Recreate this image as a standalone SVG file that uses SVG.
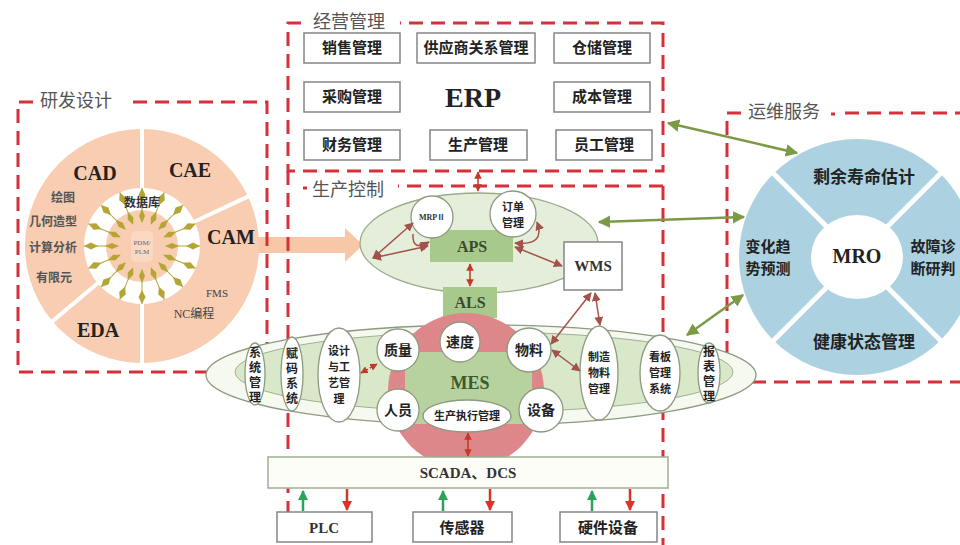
<svg xmlns="http://www.w3.org/2000/svg" xmlns:xlink="http://www.w3.org/1999/xlink" width="960" height="545" viewBox="0 0 960 545">
<style>
.dash{fill:none;stroke:#d6303a;stroke-width:3;stroke-dasharray:14 8}
.title{font-family:'Noto Sans CJK SC',sans-serif;font-size:18px;fill:#555}
.cj{font-family:'Noto Sans CJK SC',sans-serif;font-weight:700;fill:#222;text-anchor:middle}
.vt{font-family:'Noto Sans CJK SC',sans-serif;font-weight:700;fill:#222;text-anchor:middle;writing-mode:vertical-rl;font-size:12px;letter-spacing:3px}
.lat{font-family:'Liberation Serif','Noto Sans CJK SC',serif;font-weight:700;fill:#222;text-anchor:middle}
.box{fill:#fff;stroke:#858585;stroke-width:1.5}
.node{fill:#fff;stroke:#8c9a80;stroke-width:1.3}
.br{fill:none;stroke:#a3524a;stroke-width:1.5}
.ol{fill:none;stroke:#7c9a45;stroke-width:2.5}
.rd{fill:none;stroke:#c0392b;stroke-width:1.5}
</style>
<defs>
<marker id="mb" viewBox="0 0 10 10" refX="9" refY="5" markerWidth="6" markerHeight="6" orient="auto-start-reverse"><path d="M0,0 L10,5 L0,10 z" fill="#a3524a"/></marker>
<marker id="mo" viewBox="0 0 10 10" refX="9" refY="5" markerWidth="5" markerHeight="5" orient="auto-start-reverse"><path d="M0,0 L10,5 L0,10 z" fill="#7c9a45"/></marker>
<marker id="mr" viewBox="0 0 10 10" refX="9" refY="5" markerWidth="5" markerHeight="5" orient="auto-start-reverse"><path d="M0,0 L10,5 L0,10 z" fill="#c0392b"/></marker>
<marker id="mg" viewBox="0 0 10 10" refX="9" refY="5" markerWidth="4" markerHeight="4" orient="auto"><path d="M0,0 L10,5 L0,10 z" fill="#27a35a"/></marker>
<marker id="mrd" viewBox="0 0 10 10" refX="9" refY="5" markerWidth="4" markerHeight="4" orient="auto"><path d="M0,0 L10,5 L0,10 z" fill="#e0302a"/></marker>
<g id="ray">
<line x1="24" y1="0" x2="58" y2="0" stroke="#b5a838" stroke-width="1"/>
<path d="M23,0 L30,-3 L37,0 L30,3 Z" fill="#b3a633"/>
<path d="M44,0 L51,-3.5 L58,0 L51,3.5 Z" fill="#b3a633"/>
</g>
</defs>
<rect width="960" height="545" fill="#fff"/>

<!-- peach arrow -->
<polygon points="245,237 345,237 345,228 363,245 345,262 345,253 245,253" fill="#f8c7a7"/>

<!-- dashed frames -->
<g id="frames">
<path class="dash" d="M301,23 L288,23 L288,171 L663,171 L663,23 L400,23"/>
<text class="title" x="313" y="28">经营管理</text>
<path class="dash" d="M288,171 L288,545 M663,186 L663,545 M663,186 L398,186 M303,188 L307,188"/>
<text class="title" x="312" y="196">生产控制</text>
<path class="dash" d="M33,102 L18,102 L18,372 L267,372 L267,102 L125,102"/>
<text class="title" x="40" y="107">研发设计</text>
<path class="dash" d="M741,113 L727,113 L727,382 L960,382 M845,113 L960,113 M831,114 L835,114"/>
<text class="title" x="748" y="118">运维服务</text>
</g>

<!-- R&D circle -->
<g id="rd-circle">
<circle cx="142" cy="246" r="117" fill="#f8cdb1"/>
<circle cx="142" cy="246" r="58" fill="#fff"/>
<circle cx="142" cy="246" r="36" fill="#f8cdb1"/>
<rect x="131" y="231" width="22" height="31" rx="5" fill="#fbd8c1"/>
<g stroke="#fff" stroke-width="4">
<line x1="142" y1="188" x2="142" y2="126"/>
<line x1="194.6" y1="221.5" x2="250" y2="195.6"/>
<line x1="142" y1="304" x2="142" y2="366"/>
<line x1="97.6" y1="283.3" x2="50.8" y2="322.6"/>
</g>
<use xlink:href="#ray" href="#ray" transform="translate(142,246) rotate(0)"/>
<use xlink:href="#ray" href="#ray" transform="translate(142,246) rotate(22.5)"/>
<use xlink:href="#ray" href="#ray" transform="translate(142,246) rotate(45)"/>
<use xlink:href="#ray" href="#ray" transform="translate(142,246) rotate(67.5)"/>
<use xlink:href="#ray" href="#ray" transform="translate(142,246) rotate(90)"/>
<use xlink:href="#ray" href="#ray" transform="translate(142,246) rotate(112.5)"/>
<use xlink:href="#ray" href="#ray" transform="translate(142,246) rotate(135)"/>
<use xlink:href="#ray" href="#ray" transform="translate(142,246) rotate(157.5)"/>
<use xlink:href="#ray" href="#ray" transform="translate(142,246) rotate(180)"/>
<use xlink:href="#ray" href="#ray" transform="translate(142,246) rotate(202.5)"/>
<use xlink:href="#ray" href="#ray" transform="translate(142,246) rotate(225)"/>
<use xlink:href="#ray" href="#ray" transform="translate(142,246) rotate(247.5)"/>
<use xlink:href="#ray" href="#ray" transform="translate(142,246) rotate(270)"/>
<use xlink:href="#ray" href="#ray" transform="translate(142,246) rotate(292.5)"/>
<use xlink:href="#ray" href="#ray" transform="translate(142,246) rotate(315)"/>
<use xlink:href="#ray" href="#ray" transform="translate(142,246) rotate(337.5)"/>
<text class="lat" x="95" y="180" font-size="20">CAD</text>
<text class="lat" x="190" y="177" font-size="20">CAE</text>
<text class="lat" x="231" y="244" font-size="20">CAM</text>
<text class="lat" x="98" y="337" font-size="20">EDA</text>
<text class="cj" x="63" y="202" font-size="12" style="fill:#555">绘图</text>
<text class="cj" x="53" y="226" font-size="12" style="fill:#555">几何造型</text>
<text class="cj" x="53" y="252" font-size="12" style="fill:#555">计算分析</text>
<text class="cj" x="54" y="282" font-size="12" style="fill:#555">有限元</text>
<text class="cj" x="142" y="207" font-size="12" style="fill:#333">数据库</text>
<text class="lat" font-size="7" style="fill:#666;font-weight:400"><tspan x="142" y="245">PDM/</tspan><tspan x="142" dy="9">PLM</tspan></text>
<text class="lat" x="217" y="297" font-size="11" style="fill:#444;font-weight:400">FMS</text>
<text class="lat" x="194" y="318" font-size="12" style="fill:#444;font-weight:400">NC编程</text>
</g>

<!-- ERP -->
<g id="erp">
<rect class="box" x="304" y="33" width="96" height="30"/>
<text class="cj" x="352" y="53" font-size="15">销售管理</text>
<rect class="box" x="417" y="33" width="118" height="30"/>
<text class="cj" x="476" y="53" font-size="15">供应商关系管理</text>
<rect class="box" x="554" y="33" width="96" height="30"/>
<text class="cj" x="602" y="53" font-size="15">仓储管理</text>
<rect class="box" x="304" y="82" width="96" height="30"/>
<text class="cj" x="352" y="102" font-size="15">采购管理</text>
<text class="lat" x="473" y="107" font-size="28">ERP</text>
<rect class="box" x="554" y="82" width="96" height="30"/>
<text class="cj" x="602" y="102" font-size="15">成本管理</text>
<rect class="box" x="304" y="130" width="96" height="30"/>
<text class="cj" x="352" y="150" font-size="15">财务管理</text>
<rect class="box" x="430" y="130" width="97" height="30"/>
<text class="cj" x="478" y="150" font-size="15">生产管理</text>
<rect class="box" x="556" y="130" width="96" height="30"/>
<text class="cj" x="604" y="150" font-size="15">员工管理</text>
</g>

<!-- MRO circle -->
<g id="mro">
<circle cx="857" cy="257" r="118" fill="#acd2e2"/>
<g stroke="#fff" stroke-width="5">
<line x1="827" y1="227" x2="770" y2="170"/>
<line x1="887" y1="227" x2="944" y2="170"/>
<line x1="827" y1="287" x2="770" y2="344"/>
<line x1="887" y1="287" x2="944" y2="344"/>
</g>
<ellipse cx="857" cy="257" rx="46" ry="42" fill="#fff"/>
<text class="lat" x="857" y="263" font-size="20">MRO</text>
<text class="cj" x="864" y="183" font-size="17">剩余寿命估计</text>
<text class="cj" font-size="15"><tspan x="768" y="252">变化趋</tspan><tspan x="768" dy="22">势预测</tspan></text>
<text class="cj" font-size="15"><tspan x="933" y="252">故障诊</tspan><tspan x="933" dy="22">断研判</tspan></text>
<text class="cj" x="864" y="348" font-size="17">健康状态管理</text>
</g>

<!-- APS ellipse -->
<g id="aps">
<ellipse cx="479" cy="243" rx="119" ry="50" fill="#e5eedb" stroke="#9aab8a" stroke-width="1.3"/>
<rect x="430" y="230" width="83" height="32" fill="#a8c98c"/>
<text class="lat" x="472" y="252" font-size="16" style="fill:#3a4a30">APS</text>
</g>
<g id="mrp"><circle class="node" cx="432" cy="217" r="21"/>
<text class="lat" x="432" y="220" font-size="8" style="fill:#333">MRPⅡ</text></g>
<g id="order"><circle class="node" cx="513" cy="214" r="23"/>
<text class="cj" font-size="11"><tspan x="513" y="211">订单</tspan><tspan x="513" dy="16">管理</tspan></text></g>
<g id="wms"><rect class="box" x="564" y="242" width="58" height="48"/>
<text class="lat" x="593" y="271" font-size="15" style="fill:#333">WMS</text></g>

<!-- big ellipse -->
<g id="band">
<ellipse cx="481" cy="375" rx="275" ry="50" fill="#f5f9ef" stroke="#8c9a80" stroke-width="1.3"/>
<ellipse cx="484" cy="372" rx="249" ry="40" fill="#d9e8c9" stroke="#a0b090" stroke-width="1"/>
</g>

<g id="als"><rect x="443" y="287" width="54" height="31" fill="#a8c98c"/>
<text class="lat" x="470" y="308" font-size="16" style="fill:#3a4a30">ALS</text></g>

<!-- MES -->
<g id="mes">
<circle cx="466" cy="391" r="78" fill="#de878a"/>
<rect x="405" y="352" width="127" height="72" fill="#b7d29e"/>
<text class="lat" x="470" y="389" font-size="18" style="fill:#3d5a2e">MES</text>
</g>
<g id="n-speed"><circle class="node" cx="460" cy="342" r="20"/><text class="cj" x="460" y="347" font-size="14">速度</text></g>
<g id="n-quality"><circle class="node" cx="398" cy="350" r="21"/><text class="cj" x="398" y="355" font-size="14">质量</text></g>
<g id="n-material"><circle class="node" cx="529" cy="350" r="22"/><text class="cj" x="529" y="355" font-size="14">物料</text></g>
<g id="n-staff"><circle class="node" cx="398" cy="410" r="21"/><text class="cj" x="398" y="415" font-size="14">人员</text></g>
<g id="n-equip"><circle class="node" cx="541" cy="410" r="22"/><text class="cj" x="541" y="415" font-size="14">设备</text></g>
<g id="n-exec"><ellipse class="node" cx="467" cy="416" rx="44" ry="16"/><text class="cj" x="467" y="420" font-size="11">生产执行管理</text></g>

<g id="n-sys"><ellipse class="node" cx="255" cy="374" rx="10" ry="31"/>
<text class="vt" x="255" y="376">系统管理</text></g>
<g id="n-code"><ellipse class="node" cx="292" cy="374" rx="11" ry="37"/>
<text class="vt" x="292" y="377">赋码系统</text></g>
<g id="n-design"><ellipse class="node" cx="339" cy="375" rx="21" ry="47"/>
<text class="cj" font-size="11"><tspan x="339" y="355">设计</tspan><tspan x="339" dy="16">与工</tspan><tspan x="339" dy="16">艺管</tspan><tspan x="339" dy="16">理</tspan></text></g>
<g id="n-mfg"><ellipse class="node" cx="599" cy="373" rx="19" ry="47"/>
<text class="cj" font-size="11"><tspan x="599" y="361">制造</tspan><tspan x="599" dy="16">物料</tspan><tspan x="599" dy="16">管理</tspan></text></g>
<g id="n-kanban"><ellipse class="node" cx="660" cy="373" rx="20" ry="38"/>
<text class="cj" font-size="11"><tspan x="660" y="361">看板</tspan><tspan x="660" dy="16">管理</tspan><tspan x="660" dy="16">系统</tspan></text></g>
<g id="n-report"><ellipse class="node" cx="709" cy="373" rx="11" ry="30"/>
<text class="vt" x="709" y="375">报表管理</text></g>

<!-- SCADA and devices -->
<g id="scada"><rect x="268" y="457" width="400" height="31" fill="#fcfdf7" stroke="#a0ad95" stroke-width="1.5"/>
<text class="lat" x="468" y="478" font-size="15" style="fill:#333">SCADA、DCS</text></g>
<g id="plc"><rect class="box" x="277" y="512" width="95" height="30"/><text class="lat" x="324" y="533" font-size="15" style="fill:#333">PLC</text></g>
<g id="sensor"><rect class="box" x="413" y="512" width="99" height="30"/><text class="cj" x="462" y="533" font-size="15">传感器</text></g>
<g id="hw"><rect class="box" x="560" y="512" width="97" height="30"/><text class="cj" x="608" y="533" font-size="15">硬件设备</text></g>

<!-- connectors -->
<g id="connectors">
<line class="br" x1="373" y1="258" x2="413" y2="223" marker-start="url(#mb)" marker-end="url(#mb)"/>
<line class="br" x1="373" y1="258" x2="428" y2="246" marker-start="url(#mb)" marker-end="url(#mb)"/>
<path class="br" d="M413,234 Q412,252 429,242" marker-end="url(#mb)"/>
<path class="br" d="M515,243 Q546,246 537,222" marker-start="url(#mb)" marker-end="url(#mb)"/>
<line class="br" x1="515" y1="247" x2="562" y2="266" marker-start="url(#mb)" marker-end="url(#mb)"/>
<line class="br" x1="591" y1="293" x2="551" y2="344" marker-start="url(#mb)" marker-end="url(#mb)"/>
<line class="br" x1="595" y1="293" x2="600" y2="325" marker-start="url(#mb)" marker-end="url(#mb)"/>
<line class="br" x1="552" y1="350" x2="580" y2="371" marker-start="url(#mb)" marker-end="url(#mb)"/>
<line class="rd" x1="361" y1="373" x2="377" y2="364" stroke-dasharray="3 2" marker-start="url(#mr)" marker-end="url(#mr)"/>
<line class="rd" x1="478" y1="172" x2="478" y2="191" marker-start="url(#mr)" marker-end="url(#mr)"/>
<line class="rd" x1="470" y1="264" x2="470" y2="286" marker-start="url(#mr)" marker-end="url(#mr)"/>
<line class="rd" x1="468" y1="433" x2="468" y2="456" marker-start="url(#mr)" marker-end="url(#mr)"/>
<line class="ol" x1="668" y1="123" x2="797" y2="153" marker-start="url(#mo)" marker-end="url(#mo)"/>
<line class="ol" x1="599" y1="222" x2="744" y2="217" marker-start="url(#mo)" marker-end="url(#mo)"/>
<line class="ol" x1="743" y1="295" x2="687" y2="335" marker-start="url(#mo)" marker-end="url(#mo)"/>
<g stroke="#27a35a" stroke-width="2.5">
<line x1="303" y1="511" x2="303" y2="491" marker-end="url(#mg)"/>
<line x1="443" y1="511" x2="443" y2="491" marker-end="url(#mg)"/>
<line x1="592" y1="511" x2="592" y2="491" marker-end="url(#mg)"/>
</g>
<g stroke="#e0302a" stroke-width="2.5">
<line x1="347" y1="489" x2="347" y2="510" marker-end="url(#mrd)"/>
<line x1="490" y1="489" x2="490" y2="510" marker-end="url(#mrd)"/>
<line x1="630" y1="489" x2="630" y2="510" marker-end="url(#mrd)"/>
</g>
</g>
</svg>
